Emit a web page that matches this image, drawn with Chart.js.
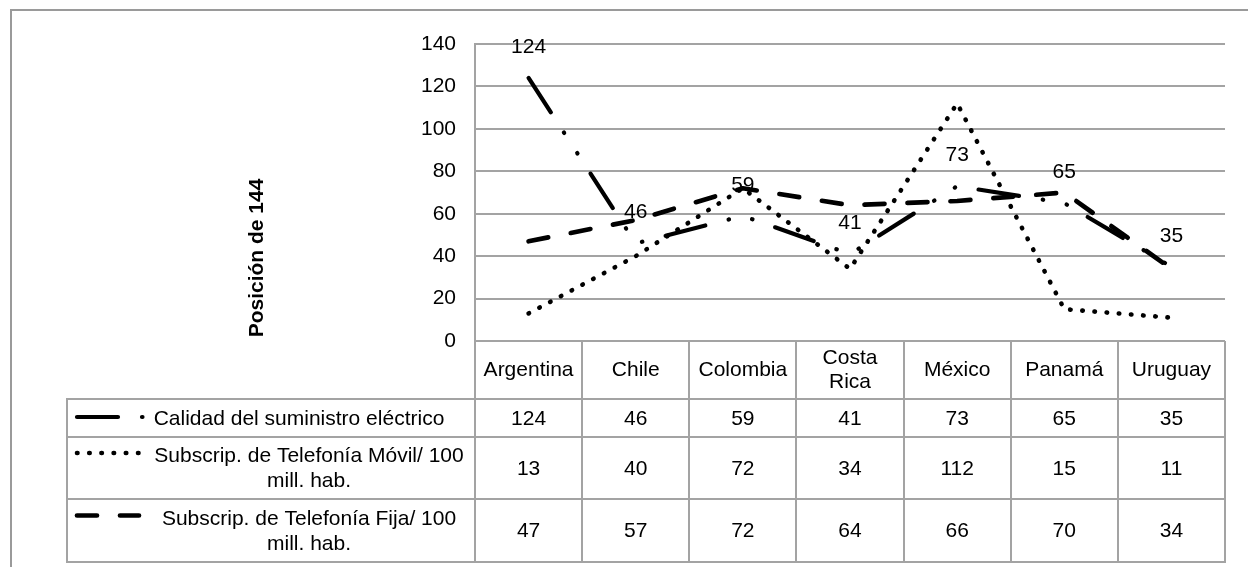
<!DOCTYPE html>
<html>
<head>
<meta charset="utf-8">
<script src="https://cdn.jsdelivr.net/npm/chart.js@4/dist/chart.umd.min.js"></script>
<style>
  html, body { margin: 0; padding: 0; background: #fff; }
  canvas { display: block; }
</style>
</head>
<body>
<canvas id="chart" width="1248" height="567"></canvas>
<script>
// datos
const categories = ["Argentina", "Chile", "Colombia", ["Costa", "Rica"], "México", "Panamá", "Uruguay"];
const calidad = [124, 46, 59, 41, 73, 65, 35];
const movil = [13, 40, 72, 34, 112, 15, 11];
const fija = [47, 57, 72, 64, 66, 70, 34];
const seriesNames = [
    ["Calidad del suministro eléctrico"],
    ["Subscrip. de Telefonía Móvil/ 100", "mill. hab."],
    ["Subscrip. de Telefonía Fija/ 100", "mill. hab."]
];
const yMin = 0, yMax = 140, yStep = 20;
const yTitle = "Posición de 144";

const FONT = "'Liberation Sans', Arial, sans-serif";
const FS = 21;
const GRID = "#a3a3a3";

// estilos de linea (se usan en el grafico y en la tabla)
const lineStyles = [
    { width: 4.2, dash: [41, 24, 0.5, 24, 0.5, 24] },
    { width: 4.6, dash: [0.5, 11.7] },
    { width: 4.7, dash: [20, 23] }
];

// tabla de datos debajo del grafico
const rowLines = [399, 437, 499, 562];
const dataTable = {
    id: "dataTable",
    afterDraw(chart) {
        const ctx = chart.ctx;
        const x = chart.scales.x;
        const area = chart.chartArea;
        const colW = (area.right - area.left) / categories.length;
        const tableLeft = 67;
        const top = area.bottom;
        const bottom = rowLines[rowLines.length - 1];
        const series = [calidad, movil, fija];

        ctx.save();
        ctx.strokeStyle = GRID;
        ctx.lineWidth = 2;
        // verticales
        for (let i = 0; i <= categories.length; i++) {
            const cx = Math.round(area.left + i * colW);
            ctx.beginPath();
            ctx.moveTo(cx, top);
            ctx.lineTo(cx, bottom);
            ctx.stroke();
        }
        ctx.beginPath();
        ctx.moveTo(tableLeft, rowLines[0]);
        ctx.lineTo(tableLeft, bottom);
        ctx.stroke();
        // horizontales
        rowLines.forEach((y) => {
            ctx.beginPath();
            ctx.moveTo(tableLeft - 1, y);
            ctx.lineTo(area.right + 1, y);
            ctx.stroke();
        });

        // encabezados
        ctx.fillStyle = "#000";
        ctx.font = FS + "px " + FONT;
        ctx.textAlign = "center";
        ctx.textBaseline = "middle";
        const headMid = (top + rowLines[0]) / 2;
        categories.forEach((c, i) => {
            const cx = x.getPixelForValue(i);
            const lines = Array.isArray(c) ? c : [c];
            lines.forEach((t, k) => {
                ctx.fillText(t, cx, headMid + (k - (lines.length - 1) / 2) * 24);
            });
        });

        // filas
        series.forEach((vals, r) => {
            const y0 = rowLines[r], y1 = rowLines[r + 1];
            const mid = (y0 + y1) / 2;
            vals.forEach((v, i) => {
                ctx.fillText(String(v), x.getPixelForValue(i), mid + 1);
            });
            // texto leyenda
            const names = seriesNames[r];
            const tx = r === 0 ? 299 : 309;
            names.forEach((t, k) => {
                ctx.fillText(t, tx, mid + 1 + (k - (names.length - 1) / 2) * 25);
            });
            // clave de leyenda
            const st = lineStyles[r];
            const ky = names.length > 1 ? mid - 15 : mid - 1;
            ctx.save();
            ctx.strokeStyle = "#000";
            ctx.lineWidth = st.width;
            ctx.lineCap = "round";
            ctx.setLineDash(st.dash);
            ctx.beginPath();
            ctx.moveTo(77, ky);
            ctx.lineTo(r === 0 ? 147 : 139, ky);
            ctx.stroke();
            ctx.restore();
        });

        // titulo del eje y
        ctx.save();
        ctx.translate(257, 258);
        ctx.rotate(-Math.PI / 2);
        ctx.font = "bold " + FS + "px " + FONT;
        ctx.fillText(yTitle, 0, 0);
        ctx.restore();

        // marco exterior
        ctx.strokeStyle = "#9a9a9a";
        ctx.lineWidth = 2;
        ctx.strokeRect(11, 10, 1300, 600);
        ctx.restore();
    }
};

// etiquetas de datos de la primera serie
const valueLabels = {
    id: "valueLabels",
    afterDatasetsDraw(chart) {
        const ctx = chart.ctx;
        const meta = chart.getDatasetMeta(0);
        ctx.save();
        ctx.fillStyle = "#000";
        ctx.font = FS + "px " + FONT;
        ctx.textAlign = "center";
        ctx.textBaseline = "middle";
        meta.data.forEach((pt, i) => {
            ctx.fillText(String(calidad[i]), pt.x, pt.y - 31);
        });
        ctx.restore();
    }
};

const mkSet = (label, data, st) => ({
    label: label,
    data: data,
    borderColor: "#000",
    borderWidth: st.width,
    borderDash: st.dash,
    borderCapStyle: "round",
    borderJoinStyle: "round",
    pointRadius: 0,
    tension: 0,
    fill: false
});

const chart = new Chart(document.getElementById("chart").getContext("2d"), {
    type: "line",
    data: {
        labels: categories,
        datasets: [
            mkSet(seriesNames[0].join(" "), calidad, lineStyles[0]),
            mkSet(seriesNames[1].join(" "), movil, lineStyles[1]),
            mkSet(seriesNames[2].join(" "), fija, lineStyles[2])
        ]
    },
    options: {
        responsive: false,
        animation: false,
        layout: { padding: { left: 0, top: 44, right: 23, bottom: 0 } },
        plugins: {
            legend: { display: false },
            tooltip: { enabled: false }
        },
        scales: {
            x: {
                offset: true,
                grid: { display: false },
                border: { display: false },
                ticks: { display: false },
                afterFit(scale) { scale.height = 226; }
            },
            y: {
                min: yMin,
                max: yMax,
                ticks: {
                    stepSize: yStep,
                    color: "#000",
                    padding: 19,
                    font: { family: FONT, size: FS }
                },
                grid: { color: GRID, lineWidth: 2, drawTicks: false },
                border: { display: true, color: GRID, width: 2 },
                afterFit(scale) { scale.width = 475; }
            }
        }
    },
    plugins: [valueLabels, dataTable]
});
</script>
</body>
</html>
